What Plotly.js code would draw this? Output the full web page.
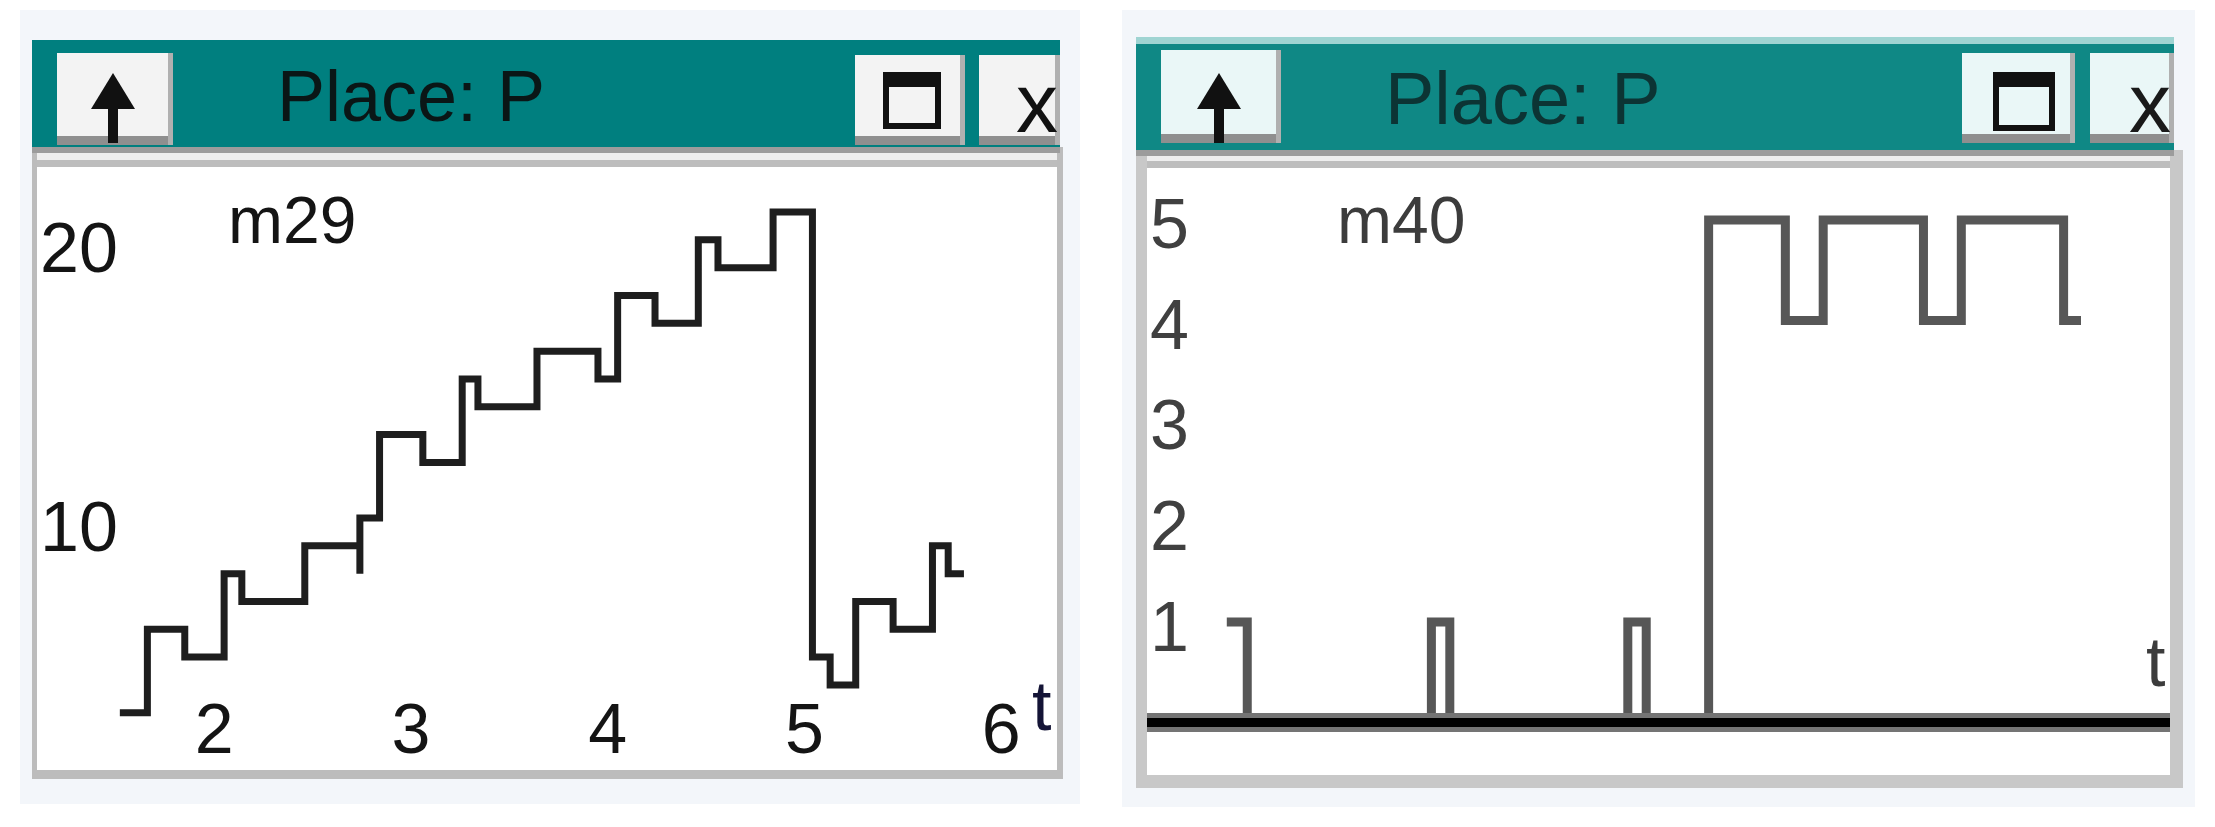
<!DOCTYPE html>
<html>
<head>
<meta charset="utf-8">
<script src="https://cdn.plot.ly/plotly-3.0.1.min.js"></script>
<style>
  html, body { margin: 0; padding: 0; background: #ffffff; }
  #chart { width: 2215px; height: 827px; }
</style>
</head>
<body>
<div id="chart"></div>
<script>
const W = 2215, H = 827

// left window: marking of place P (m29) over time
const leftT = [1.52, 1.66, 1.85, 2.05, 2.14, 2.46, 2.74, 2.74, 2.84, 3.06, 3.26, 3.34, 3.64, 3.95, 4.05, 4.24, 4.46, 4.56, 4.84, 5.04, 5.13, 5.26, 5.45, 5.65, 5.73, 5.81]
const leftM = [3, 6, 5, 8, 7, 9, 8, 10, 13, 12, 15, 14, 16, 15, 18, 17, 20, 19, 21, 5, 4, 7, 6, 9, 8, 8]
const leftXTicks = [2, 3, 4, 5, 6]
const leftYTicks = [10, 20]

// right window: marking of place P (m40) over time (no time labels shown)
const rightT = [0.78, 0.98, 2.78, 2.96, 4.70, 4.88, 5.49, 6.24, 6.61, 7.59, 7.96, 8.96, 9.13]
const rightM = [1, 0, 1, 0, 1, 0, 5, 4, 5, 4, 5, 4, 4]
const rightYTicks = [1, 2, 3, 4, 5]

const titles = ["Place: P", "Place: P"]
const markLabels = ["m29", "m40"]

const FONT = "Liberation Sans, Arial, sans-serif"
const X = p => p / W
const Y = p => 1 - p / H

const rect = (x0, y0, x1, y1, fill, line) => ({
  type: "rect", xref: "paper", yref: "paper", layer: "below",
  x0: X(x0), x1: X(x1), y0: Y(y1), y1: Y(y0),
  fillcolor: fill, line: line || {width: 0}
})

const pathShape = (pts, fill) => ({
  type: "path", xref: "paper", yref: "paper", layer: "below",
  path: "M" + pts.map(p => X(p[0]) + "," + Y(p[1])).join(" L") + " Z",
  fillcolor: fill, line: {width: 0}
})

// window chrome, drawn as shapes in pixel terms
function windowChrome(o) {
  const s = []
  s.push(rect(o.bg[0], o.bg[1], o.bg[2], o.bg[3], "#f3f6fa"))
  // frame borders
  s.push(rect(o.win[0], o.bar[3], o.win[2], o.win[3], o.frame))
  s.push(rect(o.plot[0], o.plot[1], o.plot[2], o.plot[3], "#ffffff"))
  // title bar
  s.push(rect(o.bar[0], o.bar[1], o.bar[2], o.bar[3], o.teal))
  if (o.tealTop) s.push(rect(o.bar[0], o.bar[1], o.bar[2], o.bar[1] + 7, o.tealTop))
  s.push(rect(o.bar[0], o.bar[3], o.bar[2], o.bar[3] + 6, "#9c9c9c"))
  s.push(rect(o.plot[0], o.bar[3] + 6, o.plot[2], o.plot[1] - 7, "#eeeeee"))
  s.push(rect(o.plot[0], o.plot[1] - 7, o.plot[2], o.plot[1], "#bdbdbd"))
  // buttons
  for (const b of o.buttons) {
    s.push(rect(b[0], b[1], b[2], b[3], o.btnFace))
    s.push(rect(b[0], b[3] - 9, b[2], b[3], "#8f8f8f"))
    s.push(rect(b[2] - 5, b[1], b[2], b[3], "#b0b0b0"))
  }
  // up arrow
  const ax = o.arrowX
  s.push(rect(ax - 5, o.arrowY + 30, ax + 5, o.arrowY + 70, "#111111"))
  s.push(pathShape([[ax - 22, o.arrowY + 36], [ax, o.arrowY], [ax + 22, o.arrowY + 36]], "#111111"))
  // restore icon
  const r = o.restore
  s.push({type: "rect", xref: "paper", yref: "paper", layer: "below",
    x0: X(r[0]), x1: X(r[2]), y0: Y(r[3]), y1: Y(r[1]),
    fillcolor: "rgba(0,0,0,0)", line: {color: "#111111", width: 6}})
  s.push(rect(r[0], r[1], r[2], r[1] + 12, "#111111"))
  return s
}

const shapes = [
  ...windowChrome({
    bg: [20, 10, 1080, 804], win: [32, 40, 1063, 779], frame: "#bcbcbc",
    plot: [37, 167, 1057, 770], bar: [32, 40, 1060, 147], teal: "#007f7f",
    btnFace: "#f3f3f3", buttons: [[57, 53, 173, 145], [855, 55, 965, 145], [979, 55, 1060, 145]],
    arrowX: 113, arrowY: 73, restore: [886, 75, 938, 126]
  }),
  ...windowChrome({
    bg: [1122, 10, 2195, 807], win: [1136, 37, 2183, 788], frame: "#c8c8c8",
    plot: [1147, 168, 2170, 775], bar: [1136, 37, 2174, 150], teal: "#0f8885", tealTop: "#9fd4d2",
    btnFace: "#eaf7f7", buttons: [[1161, 50, 1281, 143], [1962, 53, 2075, 143], [2090, 53, 2174, 143]],
    arrowX: 1219, arrowY: 73, restore: [1996, 75, 2052, 128]
  }),
  // thick baseline at zero in the right plot
  {type: "line", xref: "x2 domain", yref: "y2", x0: 0, x1: 1, y0: 0, y1: 0, layer: "above",
    line: {color: "#747474", width: 19}},
  {type: "line", xref: "x2 domain", yref: "y2", x0: 0, x1: 1, y0: 0, y1: 0, layer: "above",
    line: {color: "#000000", width: 9}}
]

const ann = (text, x, y, size, color, xanchor) => ({
  text, xref: "paper", yref: "paper", x: X(x), y: Y(y), showarrow: false,
  xanchor: xanchor || "left", yanchor: "middle",
  font: {family: FONT, size, color}
})

const annotations = [
  ann(titles[0], 275, 96, 72, "#0a1616"),
  ann(titles[1], 1383, 98, 74, "#0c3434"),
  ann("x", 1037, 103, 84, "#111111", "center"),
  ann("x", 2150, 103, 84, "#1a1a1a", "center"),
  ann(markLabels[0], 226, 220, 66, "#141414"),
  ann(markLabels[1], 1335, 220, 66, "#3c3c3c"),
  ann("t", 1030, 706, 70, "#141436"),
  ann("t", 2144, 662, 70, "#3c3c3c")
]

const traces = [
  {x: leftT, y: leftM, xaxis: "x", yaxis: "y", type: "scatter", mode: "lines",
    line: {shape: "hv", color: "#1e1e1e", width: 7}, hoverinfo: "x+y"},
  {x: rightT, y: rightM, xaxis: "x2", yaxis: "y2", type: "scatter", mode: "lines",
    line: {shape: "hv", color: "#575757", width: 9}, hoverinfo: "x+y"}
]

const noGrid = {showgrid: false, zeroline: false, showline: false, ticks: "", fixedrange: true}

const layout = {
  width: W, height: H,
  margin: {l: 0, r: 0, t: 0, b: 0},
  paper_bgcolor: "#ffffff", plot_bgcolor: "rgba(0,0,0,0)",
  showlegend: false,
  xaxis: {...noGrid, domain: [X(37), X(1057)], range: [1.099, 6.283], anchor: "y",
    tickvals: leftXTicks, ticktext: leftXTicks.map(String), ticklabelposition: "inside",
    ticklabelstandoff: 0, tickfont: {family: FONT, size: 70, color: "#141414"}},
  yaxis: {...noGrid, domain: [Y(770), Y(167)], range: [0.94, 22.62], anchor: "x",
    tickvals: leftYTicks, ticktext: leftYTicks.map(String), ticklabelposition: "inside",
    ticklabelstandoff: 0, ticklabelshift: 8, tickfont: {family: FONT, size: 70, color: "#141414"}},
  xaxis2: {...noGrid, domain: [X(1147), X(2170)], range: [0, 10], anchor: "y2", showticklabels: false},
  yaxis2: {...noGrid, domain: [Y(775), Y(168)], range: [-0.522, 5.517], anchor: "x2",
    tickvals: rightYTicks, ticktext: rightYTicks.map(String), ticklabelposition: "inside",
    ticklabelstandoff: 0, ticklabelshift: 4, tickfont: {family: FONT, size: 70, color: "#404040"}},
  shapes, annotations
}

Plotly.newPlot("chart", traces, layout, {displayModeBar: false, staticPlot: true})
</script>
</body>
</html>
